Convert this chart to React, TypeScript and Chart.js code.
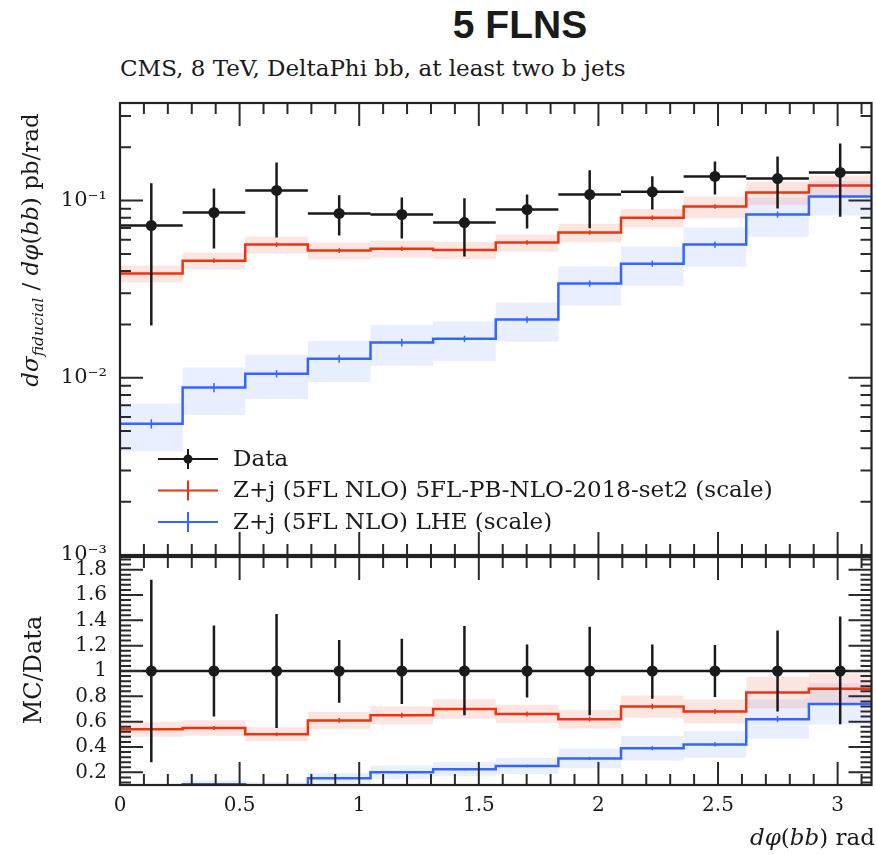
import React, { useEffect, useRef } from 'react';
import { Chart, registerables } from 'chart.js';
Chart.register(...registerables);

// ---------- data ----------
const binEdges = [0, 0.2618, 0.5236, 0.7854, 1.0472, 1.309, 1.5708, 1.8326, 2.0944, 2.3562, 2.618, 2.8798, 3.1416];
const binCenters = [0.1309, 0.3927, 0.6545, 0.9163, 1.1781, 1.4399, 1.7017, 1.9635, 2.2253, 2.4871, 2.7489, 3.0107];

const dataValues = [0.0723, 0.0856, 0.114, 0.0845, 0.0834, 0.0751, 0.089, 0.108, 0.112, 0.1367, 0.133, 0.144];
const dataErrUp = [0.125, 0.117, 0.164, 0.107, 0.104, 0.103, 0.108, 0.148, 0.137, 0.166, 0.177, 0.21];
const dataErrDown = [0.0197, 0.0536, 0.0618, 0.0635, 0.061, 0.0483, 0.0695, 0.0698, 0.089, 0.108, 0.0901, 0.081];

const redValues = [0.0387, 0.0458, 0.0564, 0.0522, 0.0535, 0.0525, 0.058, 0.066, 0.08, 0.0925, 0.111, 0.1216];
const redBandRel = [0.11, 0.11, 0.11, 0.11, 0.11, 0.11, 0.11, 0.12, 0.12, 0.14, 0.15, 0.14];
const redStatRel = [0.03, 0.03, 0.03, 0.03, 0.03, 0.03, 0.03, 0.03, 0.03, 0.03, 0.03, 0.03];

const blueValues = [0.0055, 0.0088, 0.01055, 0.0128, 0.0158, 0.0166, 0.0213, 0.034, 0.044, 0.0564, 0.0833, 0.1054];
const blueBandRel = [0.3, 0.3, 0.28, 0.26, 0.26, 0.25, 0.25, 0.25, 0.25, 0.25, 0.25, 0.22];
const blueStatRel = [0.06, 0.06, 0.05, 0.05, 0.05, 0.04, 0.04, 0.04, 0.04, 0.04, 0.04, 0.04];

const ratioData = [1, 1, 1, 1, 1, 1, 1, 1, 1, 1, 1, 1];
const ratioDataUp = [1.72, 1.36, 1.45, 1.245, 1.255, 1.355, 1.21, 1.35, 1.21, 1.205, 1.32, 1.43];
const ratioDataDown = [0.28, 0.64, 0.55, 0.75, 0.74, 0.65, 0.79, 0.65, 0.78, 0.795, 0.68, 0.58];
const ratioRed = [0.54, 0.55, 0.5, 0.61, 0.65, 0.7, 0.66, 0.62, 0.72, 0.68, 0.83, 0.86];
const ratioBlue = [0.076, 0.105, 0.093, 0.154, 0.2, 0.225, 0.25, 0.31, 0.39, 0.42, 0.62, 0.74];

const xTickValues = [0, 0.5, 1, 1.5, 2, 2.5, 3];
const xTickLabels = ['0', '0.5', '1', '1.5', '2', '2.5', '3'];
const yTickValues = [0.001, 0.01, 0.1];
const yTickLabels = ['10\u207B\u00B3', '10\u207B\u00B2', '10\u207B\u00B9'];
const rTickValues = [0.2, 0.4, 0.6, 0.8, 1, 1.2, 1.4, 1.6, 1.8];
const rTickLabels = ['0.2', '0.4', '0.6', '0.8', '1', '1.2', '1.4', '1.6', '1.8'];
const legendLabels = ['Data', 'Z+j (5FL NLO) 5FL-PB-NLO-2018-set2 (scale)', 'Z+j (5FL NLO) LHE (scale)'];

// ---------- styles ----------
const RED = '#ee3311';
const BLUE = '#3366ff';
const RED_FILL = 'rgba(238,51,17,0.12)';
const BLUE_FILL = 'rgba(51,102,255,0.10)';
const INK = '#1a1a1a';
const SERIF = '"DejaVu Serif", "Liberation Serif", serif';

const stepPts = (vals: number[]) => [
  ...vals.map((v, i) => ({ x: binEdges[i], y: v })),
  { x: binEdges[binEdges.length - 1], y: vals[vals.length - 1] },
];
const vSeg = (lo: number[], hi: number[]) =>
  binCenters.flatMap((x, i) => [{ x, y: lo[i] }, { x, y: hi[i] }, { x, y: null as any }]);
const hSeg = (vals: number[]) =>
  vals.flatMap((v, i) => [{ x: binEdges[i], y: v }, { x: binEdges[i + 1], y: v }, { x: binEdges[i + 1], y: null as any }]);

function histDatasets(vals: number[], bandRel: number[], statRel: number[], color: string, fill: string, order: number) {
  const hi = vals.map((v, i) => v * (1 + bandRel[i]));
  const lo = vals.map((v, i) => v * (1 - bandRel[i]));
  const sHi = vals.map((v, i) => v * (1 + statRel[i]));
  const sLo = vals.map((v, i) => v * (1 - statRel[i]));
  return [
    { data: stepPts(hi), stepped: 'before', borderColor: 'transparent', borderWidth: 0, pointRadius: 0, fill: '+1', backgroundColor: fill, order: order + 20 },
    { data: stepPts(lo), stepped: 'before', borderColor: 'transparent', borderWidth: 0, pointRadius: 0, fill: false, order: order + 20 },
    { data: stepPts(vals), stepped: 'before', borderColor: color, borderWidth: 2.5, pointRadius: 0, fill: false, order: order + 10 },
    { data: vSeg(sLo, sHi), borderColor: color, borderWidth: 1.5, pointRadius: 0, fill: false, spanGaps: false, order: order + 10 },
  ];
}

function dataDatasets(vals: number[], lo: number[], hi: number[]) {
  return [
    { data: hSeg(vals), borderColor: INK, borderWidth: 2.5, pointRadius: 0, fill: false, spanGaps: false, order: 2 },
    { data: vSeg(lo, hi), borderColor: INK, borderWidth: 2.5, pointRadius: 0, fill: false, spanGaps: false, order: 2 },
    { data: binCenters.map((x, i) => ({ x, y: vals[i] })), showLine: false, pointRadius: 5.5, pointBackgroundColor: INK, pointBorderColor: INK, borderWidth: 0, order: 1 },
  ];
}

function xMinorTicks() {
  const t: { v: number; major: boolean }[] = [];
  for (let k = 0; k <= 31; k++) t.push({ v: k / 10, major: k % 5 === 0 });
  return t;
}

const framePlugin = (yTicks: () => { v: number; major: boolean }[]) => ({
  id: 'frame',
  afterDatasetsDraw(chart: any) {
    const { ctx, chartArea: a, scales } = chart;
    const xs = scales.x;
    const ys = scales.y;
    ctx.save();
    ctx.strokeStyle = '#2a2a2a';
    ctx.lineWidth = 2;
    ctx.beginPath();
    for (const t of xMinorTicks()) {
      const px = xs.getPixelForValue(t.v);
      if (px < a.left - 0.5 || px > a.right + 0.5) continue;
      const len = t.major ? 23 : 11;
      ctx.moveTo(px, a.bottom);
      ctx.lineTo(px, a.bottom - len);
      ctx.moveTo(px, a.top);
      ctx.lineTo(px, a.top + len);
    }
    for (const t of yTicks()) {
      const py = ys.getPixelForValue(t.v);
      if (py < a.top - 0.5 || py > a.bottom + 0.5) continue;
      const len = t.major ? 23 : 11;
      ctx.moveTo(a.left, py);
      ctx.lineTo(a.left + len, py);
      ctx.moveTo(a.right, py);
      ctx.lineTo(a.right - len, py);
    }
    ctx.stroke();
    ctx.lineWidth = 2.2;
    ctx.strokeStyle = '#222';
    ctx.strokeRect(a.left, a.top, a.right - a.left, a.bottom - a.top);
    ctx.restore();
  },
});

const legendPlugin = {
  id: 'hepLegend',
  afterDraw(chart: any) {
    const { ctx, chartArea: a } = chart;
    const colors = [INK, RED, BLUE];
    const x0 = a.left + 38;
    const x1 = a.left + 98;
    const xm = (x0 + x1) / 2;
    ctx.save();
    legendLabels.forEach((lab, i) => {
      const y = a.bottom - 96 + i * 31.5;
      ctx.strokeStyle = colors[i];
      ctx.lineWidth = 2;
      ctx.beginPath();
      ctx.moveTo(x0, y);
      ctx.lineTo(x1, y);
      ctx.moveTo(xm, y - 10);
      ctx.lineTo(xm, y + 10);
      ctx.stroke();
      if (i === 0) {
        ctx.fillStyle = INK;
        ctx.beginPath();
        ctx.arc(xm, y, 4.5, 0, Math.PI * 2);
        ctx.fill();
      }
      ctx.fillStyle = INK;
      ctx.font = `23px ${SERIF}`;
      ctx.textBaseline = 'middle';
      ctx.fillText(lab, a.left + 113, y + 1);
    });
    ctx.restore();
  },
};

function logTicks() {
  const t: { v: number; major: boolean }[] = [];
  for (let e = -3; e <= 0; e++) for (let k = 1; k <= 9; k++) t.push({ v: k * Math.pow(10, e), major: k === 1 });
  return t;
}
function ratioTicks() {
  const t: { v: number; major: boolean }[] = [];
  for (let k = 0; k <= 50; k++) {
    const v = k * 0.04;
    t.push({ v, major: k % 5 === 0 });
  }
  return t;
}

const tickFont = { family: SERIF, size: 20 };

export default function App() {
  const topRef = useRef<HTMLCanvasElement>(null);
  const botRef = useRef<HTMLCanvasElement>(null);

  useEffect(() => {
    document.body.style.margin = '0';
    const top = new Chart(topRef.current as HTMLCanvasElement, {
      type: 'line',
      data: {
        datasets: [
          ...histDatasets(blueValues, blueBandRel, blueStatRel, BLUE, BLUE_FILL, 1),
          ...histDatasets(redValues, redBandRel, redStatRel, RED, RED_FILL, 0),
          ...dataDatasets(dataValues, dataErrDown, dataErrUp),
        ] as any,
      },
      options: {
        animation: false,
        responsive: false,
        events: [],
        layout: { padding: { top: 103, right: 2, bottom: 35, left: 0 } },
        plugins: { legend: { display: false }, tooltip: { enabled: false } },
        scales: {
          x: { type: 'linear', min: 0, max: Math.PI, display: false },
          y: {
            type: 'logarithmic',
            min: 0.001,
            max: 0.355,
            grid: { display: false, drawTicks: false },
            border: { display: false },
            afterBuildTicks: (s: any) => {
              s.ticks = yTickValues.map((v) => ({ value: v }));
            },
            afterFit: (s: any) => {
              s.width = 120;
            },
            ticks: {
              autoSkip: false,
              padding: 13,
              color: INK,
              font: { family: SERIF, size: 21 },
              callback: (v: any) => {
                const i = yTickValues.findIndex((t) => Math.abs(t - v) / t < 1e-6);
                return i >= 0 ? yTickLabels[i] : '';
              },
            },
          },
        },
      } as any,
      plugins: [framePlugin(logTicks), legendPlugin],
    });

    const bot = new Chart(botRef.current as HTMLCanvasElement, {
      type: 'line',
      data: {
        datasets: [
          ...histDatasets(ratioBlue, blueBandRel, blueStatRel, BLUE, BLUE_FILL, 1),
          ...histDatasets(ratioRed, redBandRel, redStatRel, RED, RED_FILL, 0),
          ...dataDatasets(ratioData, ratioDataDown, ratioDataUp),
        ] as any,
      },
      options: {
        animation: false,
        responsive: false,
        events: [],
        layout: { padding: { top: 42, right: 2, bottom: 0, left: 0 } },
        plugins: { legend: { display: false }, tooltip: { enabled: false } },
        scales: {
          x: {
            type: 'linear',
            min: 0,
            max: Math.PI,
            grid: { display: false, drawTicks: false },
            border: { display: false },
            afterBuildTicks: (s: any) => {
              s.ticks = xTickValues.map((v) => ({ value: v }));
            },
            afterFit: (s: any) => {
              s.height = 70;
            },
            ticks: {
              autoSkip: false,
              maxRotation: 0,
              padding: 9,
              color: INK,
              font: tickFont,
              callback: (v: any) => {
                const i = xTickValues.findIndex((t) => Math.abs(t - v) < 1e-6);
                return i >= 0 ? xTickLabels[i] : '';
              },
            },
          },
          y: {
            type: 'linear',
            min: 0.1,
            max: 1.9,
            grid: { display: false, drawTicks: false },
            border: { display: false },
            afterBuildTicks: (s: any) => {
              s.ticks = rTickValues.map((v) => ({ value: v }));
            },
            afterFit: (s: any) => {
              s.width = 120;
            },
            ticks: {
              autoSkip: false,
              padding: 13,
              color: INK,
              font: tickFont,
              callback: (v: any) => {
                const i = rTickValues.findIndex((t) => Math.abs(t - v) < 1e-6);
                return i >= 0 ? rTickLabels[i] : '';
              },
            },
          },
        },
      } as any,
      plugins: [framePlugin(ratioTicks)],
    });

    return () => {
      top.destroy();
      bot.destroy();
    };
  }, []);

  const abs: React.CSSProperties = { position: 'absolute' };
  return (
    <div style={{ position: 'relative', width: 877, height: 855, background: '#fff', overflow: 'hidden', color: INK }}>
      <div style={{ ...abs, left: 400, width: 240, top: 3, textAlign: 'center', fontFamily: '"Liberation Sans", Arial, sans-serif', fontWeight: 'bold', fontSize: 39 }}>
        5 FLNS
      </div>
      <div style={{ ...abs, left: 120, top: 55, fontFamily: SERIF, fontSize: 23, whiteSpace: 'nowrap' }}>
        CMS, 8 TeV, DeltaPhi bb, at least two b jets
      </div>
      <canvas ref={topRef} width={877} height={590} style={{ ...abs, left: 0, top: 0 }} />
      <canvas ref={botRef} width={877} height={340} style={{ ...abs, left: 0, top: 515 }} />
      <div
        style={{
          ...abs,
          left: 32,
          top: 250,
          transform: 'translate(-50%, -50%) rotate(-90deg)',
          fontFamily: SERIF,
          fontSize: 23,
          whiteSpace: 'nowrap',
        }}
      >
        <i>d</i><i>σ</i><sub style={{ fontSize: '0.68em' }}><i>fiducial</i></sub> / <i>d</i><i>φ</i>(<i>bb</i>) pb/rad
      </div>
      <div
        style={{
          ...abs,
          left: 33,
          top: 670,
          transform: 'translate(-50%, -50%) rotate(-90deg)',
          fontFamily: SERIF,
          fontSize: 24,
          whiteSpace: 'nowrap',
        }}
      >
        MC/Data
      </div>
      <div style={{ ...abs, right: 2, top: 824, fontFamily: SERIF, fontSize: 23, whiteSpace: 'nowrap' }}>
        <i>d</i><i>φ</i>(<i>bb</i>) rad
      </div>
    </div>
  );
}
